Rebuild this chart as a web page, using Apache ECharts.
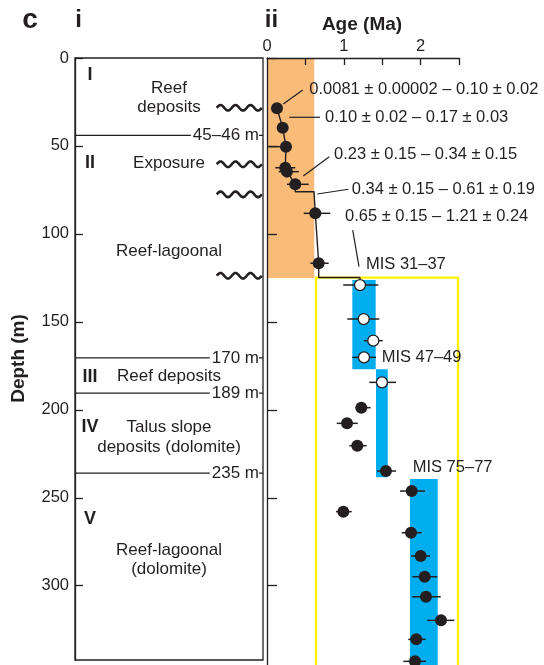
<!DOCTYPE html>
<html><head><meta charset="utf-8">
<script src="https://cdn.jsdelivr.net/npm/echarts@6/dist/echarts.min.js"></script>
<style>html,body{margin:0;padding:0;background:#fff}#c{width:544px;height:665px}</style>
</head><body><div id="c"></div>
<script>
// ---------------- data ----------------
const depthTicks = [0, 50, 100, 150, 200, 250, 300];
const ageTickLabels = [0, 1, 2];
const ageTicks = [0.5, 1, 1.5, 2, 2.5];

// panel i : stratigraphic column
const unitNumerals = ['I', 'II', 'III', 'IV', 'V'];
const unitNumeralDepths = [9.7, 59.7, 181.2, 210, 262.3];
const unitDescriptions = ['Reef\ndeposits', 'Exposure', 'Reef-lagoonal', 'Reef deposits', 'Talus slope\ndeposits (dolomite)', 'Reef-lagoonal\n(dolomite)'];
const unitDescriptionDepths = [22.5, 59.7, 110.1, 180.8, 215.5, 285.2];
const boundaryDepths = [44, 170.5, 190.5, 236];
const boundaryLabels = ['45–46 m', '170 m', '189 m', '235 m'];
const unconformityDepths = [28.3, 60.4, 77.5, 123.8];

// panel ii : ages (Ma) vs depth (m)
const upperDotAges = [0.130, 0.204, 0.247, 0.238, 0.260, 0.368, 0.629, 0.673];
const upperDotDepths = [28.6, 39.6, 50.4, 62.4, 64.6, 71.8, 88.3, 116.7];
const upperDotErrLow = [null, null, 0.022, 0.108, 0.152, 0.260, 0.478, 0.564];
const upperDotErrHigh = [null, null, 0.326, 0.368, 0.413, 0.543, 0.824, 0.803];

const openDotAges = [1.211, 1.259, 1.384, 1.263, 1.497];
const openDotDepths = [129.1, 148.4, 160.7, 170.2, 184.4];
const openDotErrLow = [0.993, 1.046, 1.263, 1.111, 1.332];
const openDotErrHigh = [1.449, 1.462, 1.507, 1.419, 1.680];

const lowerDotAges = [1.228, 1.042, 1.176, 1.549, 1.884, 0.994, 1.875, 2.001, 2.053, 2.070, 2.266, 1.944, 1.927];
const lowerDotDepths = [198.8, 207.7, 220.4, 234.8, 246.2, 257.9, 269.9, 283.1, 294.9, 306.3, 319.7, 330.5, 343];
const lowerDotErrLow = [1.155, 0.908, 1.072, 1.432, 1.732, 0.898, 1.754, 1.875, 1.892, 1.892, 2.087, 1.840, 1.775];
const lowerDotErrHigh = [1.350, 1.181, 1.298, 1.680, 2.057, 1.103, 2.014, 2.122, 2.217, 2.262, 2.439, 2.066, 2.070];

// stepped age model line
const modelAges = [0.130, 0.204, 0.247, 0.238, 0.260, 0.368, 0.368, 0.612, 0.629, 0.673, 0.673, 1.211, 1.211];
const modelDepths = [28.6, 39.6, 50.4, 62.4, 64.6, 71.8, 76.0, 76.0, 88.3, 116.7, 124.8, 124.8, 129.1];

// shaded intervals
const orangeAgeRange = [0, 0.616];
const orangeDepthRange = [0, 125.1];
const yellowAgeRange = [0.638, 2.487];
const yellowDepthRange = [124.9, 352];
const misNames = ['MIS 31–37', 'MIS 47–49', 'MIS 75–77'];
const misAgeMin = [1.111, 1.419, 1.862];
const misAgeMax = [1.415, 1.572, 2.223];
const misDepthTop = [126.2, 177.0, 239.3];
const misDepthBottom = [177.0, 238.4, 352];

// annotations
const annotationTexts = ['0.0081 ± 0.00002 – 0.10 ± 0.02', '0.10 ± 0.02 – 0.17 ± 0.03', '0.23 ± 0.15 – 0.34 ± 0.15', '0.34 ± 0.15 – 0.61 ± 0.19', '0.65 ± 0.15 – 1.21 ± 0.24', 'MIS 31–37', 'MIS 47–49', 'MIS 75–77'];
const annotationAges = [0.551, 0.755, 0.872, 1.103, 1.016, 1.289, 1.493, 1.897];
const annotationDepths = [17.8, 33.7, 55.1, 74.6, 89.8, 117.3, 170.2, 232.7];
const leaderFromAges = [0.212, 0.290, 0.473, 0.655, 1.116];
const leaderFromDepths = [26.2, 33.7, 67.1, 77.3, 97.8];
const leaderToAges = [0.465, 0.690, 0.811, 1.059, 1.198];
const leaderToDepths = [18.2, 33.7, 56.1, 74.6, 118.6];

// ---------------- chart ----------------
const FONT = "'Liberation Sans', Arial, sans-serif";
const INK = '#231f20';
const ORANGE = '#F9BB78';
const BLUE = '#00AEEF';
const YELLOW = '#FFF200';
const PX_PER_M = 1.759;
const L = { left: 75, top: 58, width: 188, height: 602 };
const R = { left: 267, top: 58, width: 192, height: 607 };

const chart = echarts.init(document.getElementById('c'), null, { renderer: 'canvas' });

function textSeries(xi, yi, xs, ys, texts, font, align) {
  return {
    type: 'custom', xAxisIndex: xi, yAxisIndex: yi, z: 10, silent: true,
    data: xs.map((x, i) => [x, ys[i]]),
    renderItem: (p, api) => {
      const c = api.coord([api.value(0), api.value(1)]);
      return { type: 'text', x: c[0], y: c[1], style: { text: texts[p.dataIndex], font, fill: INK, align, verticalAlign: 'middle', lineHeight: 19.5 } };
    }
  };
}
function rectSeries(rects, style, z) {
  return {
    type: 'custom', xAxisIndex: 1, yAxisIndex: 1, z, silent: true, data: rects,
    renderItem: (p, api) => {
      const a = api.coord([api.value(0), api.value(2)]);
      const b = api.coord([api.value(1), api.value(3)]);
      return { type: 'rect', shape: { x: a[0], y: a[1], width: b[0] - a[0], height: b[1] - a[1] }, style };
    }
  };
}
function errSeries(lows, highs, depths) {
  const d = [];
  lows.forEach((l, i) => { if (l != null) d.push([l, highs[i], depths[i]]); });
  return {
    type: 'custom', xAxisIndex: 1, yAxisIndex: 1, z: 3, silent: true, data: d,
    renderItem: (p, api) => {
      const a = api.coord([api.value(0), api.value(2)]);
      const b = api.coord([api.value(1), api.value(2)]);
      return { type: 'line', shape: { x1: a[0], y1: a[1], x2: b[0], y2: b[1] }, style: { stroke: INK, lineWidth: 1.5 } };
    }
  };
}

const option = {
  animation: false,
  backgroundColor: '#fff',
  grid: [
    { left: L.left, top: L.top, width: L.width, height: L.height, show: true, borderColor: INK, borderWidth: 1.3, backgroundColor: 'transparent' },
    { left: R.left, top: R.top, width: R.width, height: R.height }
  ],
  xAxis: [
    { gridIndex: 0, type: 'value', min: 0, max: 1, show: false },
    {
      gridIndex: 1, type: 'value', position: 'top', min: 0, max: 2.5, interval: 0.5, z: 10,
      axisLine: { show: true, onZero: false, lineStyle: { color: INK, width: 1.3 } },
      axisTick: { show: true, inside: true, length: 7, customValues: ageTicks, lineStyle: { color: INK, width: 1.3 } },
      axisLabel: { customValues: ageTickLabels, color: INK, fontSize: 16.5, fontFamily: FONT, margin: 3 },
      splitLine: { show: false }
    }
  ],
  yAxis: [
    {
      gridIndex: 0, type: 'value', inverse: true, min: 0, max: L.height / PX_PER_M, z: 10,
      axisLine: { show: true, lineStyle: { color: INK, width: 1.3 } },
      axisTick: { show: true, inside: true, length: 8, customValues: depthTicks, lineStyle: { color: INK, width: 1.3 } },
      axisLabel: { customValues: depthTicks, color: INK, fontSize: 16.5, fontFamily: FONT, margin: 6 },
      splitLine: { show: false }
    },
    {
      gridIndex: 1, type: 'value', inverse: true, min: 0, max: R.height / PX_PER_M, z: 10,
      axisLine: { show: true, onZero: false, lineStyle: { color: INK, width: 1.3 } },
      axisTick: { show: true, inside: true, length: 10, customValues: depthTicks, lineStyle: { color: INK, width: 1.3 } },
      axisLabel: { show: false },
      splitLine: { show: false }
    }
  ],
  graphic: [
    { type: 'text', x: 30, y: 20, style: { text: 'c', font: `bold 28px ${FONT}`, fill: INK, align: 'center', verticalAlign: 'middle' } },
    { type: 'text', x: 78.5, y: 20.5, style: { text: 'i', font: `bold 24px ${FONT}`, fill: INK, align: 'center', verticalAlign: 'middle' } },
    { type: 'text', x: 271.5, y: 20.5, style: { text: 'ii', font: `bold 24px ${FONT}`, fill: INK, align: 'center', verticalAlign: 'middle' } },
    { type: 'text', x: 362, y: 24.5, style: { text: 'Age (Ma)', font: `bold 19px ${FONT}`, fill: INK, align: 'center', verticalAlign: 'middle' } },
    { type: 'text', x: 18.5, y: 358.5, rotation: Math.PI / 2, style: { text: 'Depth (m)', font: `bold 19px ${FONT}`, fill: INK, align: 'center', verticalAlign: 'middle' } }
  ],
  series: [
    // shaded intervals
    rectSeries([[orangeAgeRange[0], orangeAgeRange[1], orangeDepthRange[0], orangeDepthRange[1]]], { fill: ORANGE }, 1),
    rectSeries(misAgeMin.map((a, i) => [a, misAgeMax[i], misDepthTop[i], misDepthBottom[i]]), { fill: BLUE }, 1),
    rectSeries([[yellowAgeRange[0], yellowAgeRange[1], yellowDepthRange[0], yellowDepthRange[1]]], { fill: null, stroke: YELLOW, lineWidth: 2.3 }, 2),
    // age model
    {
      type: 'line', xAxisIndex: 1, yAxisIndex: 1, z: 3, silent: true, symbol: 'none',
      data: modelAges.map((a, i) => [a, modelDepths[i]]),
      lineStyle: { color: INK, width: 1.4 }
    },
    // error bars
    errSeries(upperDotErrLow, upperDotErrHigh, upperDotDepths),
    errSeries(openDotErrLow, openDotErrHigh, openDotDepths),
    errSeries(lowerDotErrLow, lowerDotErrHigh, lowerDotDepths),
    // dots
    {
      type: 'scatter', xAxisIndex: 1, yAxisIndex: 1, z: 4, silent: true, symbolSize: 12, clip: false,
      data: upperDotAges.map((a, i) => [a, upperDotDepths[i]]).concat(lowerDotAges.map((a, i) => [a, lowerDotDepths[i]])),
      itemStyle: { color: INK, opacity: 1 }
    },
    {
      type: 'scatter', xAxisIndex: 1, yAxisIndex: 1, z: 4, silent: true, symbolSize: 11,
      data: openDotAges.map((a, i) => [a, openDotDepths[i]]),
      itemStyle: { color: '#fff', borderColor: INK, borderWidth: 1.3, opacity: 1 }
    },
    // leader lines
    {
      type: 'custom', xAxisIndex: 1, yAxisIndex: 1, z: 5, silent: true,
      data: leaderFromAges.map((a, i) => [a, leaderFromDepths[i], leaderToAges[i], leaderToDepths[i]]),
      renderItem: (p, api) => {
        const a = api.coord([api.value(0), api.value(1)]);
        const b = api.coord([api.value(2), api.value(3)]);
        return { type: 'line', shape: { x1: a[0], y1: a[1], x2: b[0], y2: b[1] }, style: { stroke: INK, lineWidth: 1.2 } };
      }
    },
    textSeries(1, 1, annotationAges, annotationDepths, annotationTexts, `16.5px ${FONT}`, 'left'),
    // panel i
    {
      type: 'custom', xAxisIndex: 0, yAxisIndex: 0, z: 5, silent: true,
      data: boundaryDepths.map(d => [0, d]),
      renderItem: (p, api) => {
        const a = api.coord([0, api.value(1)]);
        const b = api.coord([1, api.value(1)]);
        return {
          type: 'group', children: [
            { type: 'line', shape: { x1: a[0], y1: a[1], x2: b[0], y2: b[1] }, style: { stroke: INK, lineWidth: 1.3 } },
            { type: 'text', x: b[0] - 4, y: a[1], z2: 10, style: { text: boundaryLabels[p.dataIndex], font: `17px ${FONT}`, fill: INK, align: 'right', verticalAlign: 'middle', backgroundColor: '#fff', padding: [0, 0, 0, 2] } }
          ]
        };
      }
    },
    {
      type: 'custom', xAxisIndex: 0, yAxisIndex: 0, z: 5, silent: true,
      data: unconformityDepths.map(d => [0, d]),
      renderItem: (p, api) => {
        const a = api.coord([0.754, api.value(1)]);
        const b = api.coord([0.995, api.value(1)]);
        const pts = [];
        for (let x = a[0]; x <= b[0] + 0.01; x += 0.5) pts.push([x, a[1] - 2.8 * Math.sin(2 * Math.PI * (x - a[0]) / 15)]);
        return { type: 'polyline', shape: { points: pts }, style: { stroke: INK, lineWidth: 2.6, fill: null } };
      }
    },
    textSeries(0, 0, unitNumerals.map(() => 0.08), unitNumeralDepths, unitNumerals, `bold 18px ${FONT}`, 'center'),
    textSeries(0, 0, unitDescriptions.map(() => 0.5), unitDescriptionDepths, unitDescriptions, `17px ${FONT}`, 'center')
  ]
};
chart.setOption(option);
</script>
</body></html>
